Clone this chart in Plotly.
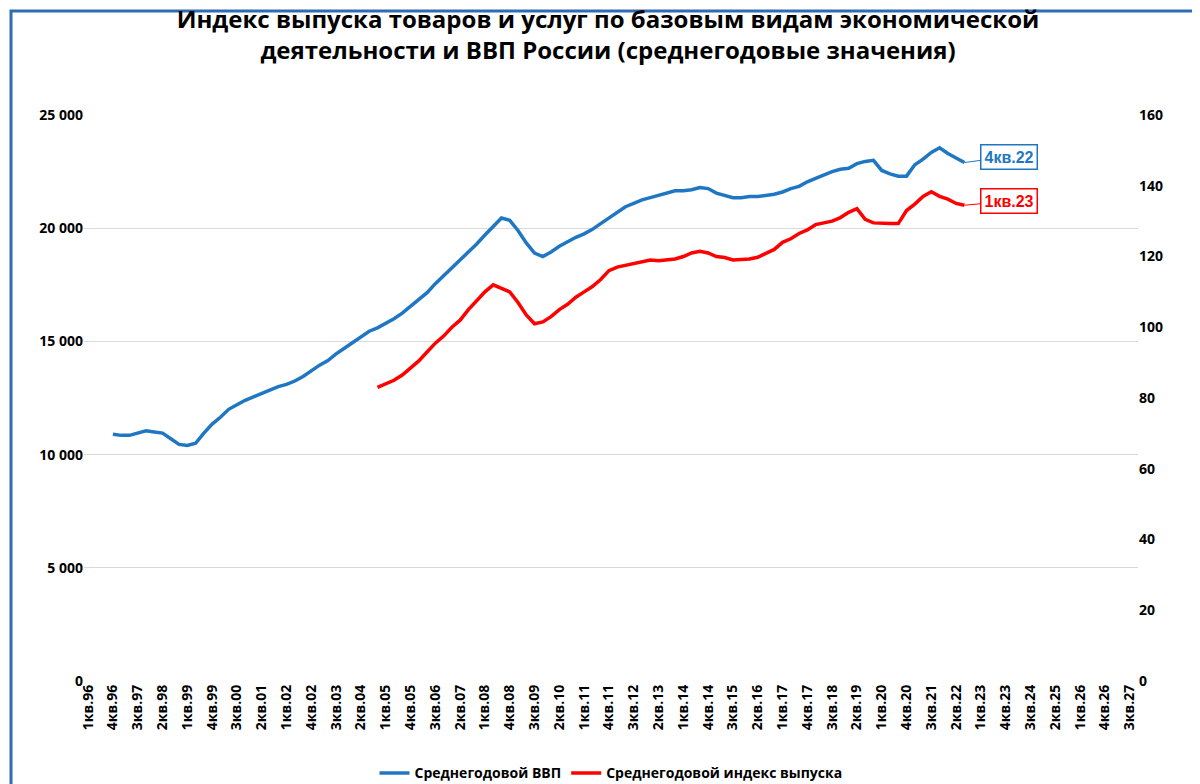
import plotly.graph_objects as go

# quarters 1кв.96 .. 4кв.27
quarters = [f"{q}кв.{y % 100:02d}" for y in range(1996, 2028) for q in range(1, 5)]

# Среднегодовой ВВП, from 4кв.96 (index 3) to 4кв.22 (index 107)
gdp_start = 3
gdp = [10.9, 10.85, 10.85, 10.95, 11.05, 11.0, 10.95, 10.7, 10.45, 10.4, 10.5, 10.95,
       11.35, 11.65, 12.0, 12.2, 12.4, 12.55, 12.7, 12.85, 13.0, 13.1, 13.25, 13.45,
       13.7, 13.95, 14.15, 14.45, 14.7, 14.95, 15.2, 15.45, 15.6, 15.8, 16.0, 16.25,
       16.55, 16.85, 17.15, 17.55, 17.9, 18.2, 18.6, 18.9, 19.3, 19.7, 20.1, 20.45,
       20.35, 19.9, 19.35, 18.9, 18.75, 18.95, 19.2, 19.4, 19.6, 19.75, 19.95, 20.2,
       20.45, 20.7, 20.95, 21.1, 21.25, 21.35, 21.45, 21.55, 21.65, 21.65, 21.7, 21.8,
       21.75, 21.55, 21.45, 21.35, 21.35, 21.4, 21.4, 21.45, 21.5, 21.6, 21.75, 21.85,
       22.05, 22.2, 22.35, 22.5, 22.6, 22.65, 22.85, 22.95, 23.0, 22.55, 22.4, 22.3,
       22.3, 22.8, 23.05, 23.35, 23.55, 23.3, 23.1, 22.9]
gdp = [v * 1000 for v in gdp]

# Среднегодовой индекс выпуска, from 4кв.04 (index 35) to 1кв.23 (index 108)
out_start = 35
output = [83, 84, 85, 86.5, 88.5, 90.5, 93, 95.5, 97.5, 100, 102, 105, 107.5, 110, 112,
          111, 110, 107, 103.5, 101, 101.5, 103, 105, 106.5, 108.5, 110, 111.5, 113.5,
          116, 117, 117.5, 118, 118.5, 119, 118.8, 119, 119.3, 120, 121, 121.5, 121,
          120, 119.7, 119, 119.2, 119.3, 119.8, 121, 122, 124, 125, 126.5, 127.5, 129,
          129.5, 130, 131, 132.5, 133.5, 130.5, 129.5, 129.3, 129.3, 129.3, 133, 134.8,
          137, 138.3, 137, 136.2, 135, 134.5]

gdp_x = list(range(gdp_start, gdp_start + len(gdp)))
out_x = list(range(out_start, out_start + len(output)))

tick_idx = list(range(0, len(quarters), 3))

fig = go.Figure()
fig.add_trace(go.Scatter(x=gdp_x, y=gdp, mode="lines", name="Среднегодовой ВВП",
                         line=dict(color="#1f77c4", width=3.5)))
fig.add_trace(go.Scatter(x=out_x, y=output, mode="lines", name="Среднегодовой индекс выпуска",
                         line=dict(color="#ff0000", width=3.5), yaxis="y2"))

fig.add_annotation(x=gdp_x[-1], y=gdp[-1], text="<b>4кв.22</b>", showarrow=True,
                   arrowhead=0, arrowcolor="#1f77c4", ax=45, ay=-6,
                   font=dict(color="#1f77c4", size=16), bordercolor="#1f77c4",
                   borderwidth=1.5, bgcolor="white", borderpad=3)
fig.add_annotation(x=out_x[-1], y=output[-1], yref="y2", text="<b>1кв.23</b>", showarrow=True,
                   arrowhead=0, arrowcolor="#ff0000", ax=45, ay=-4,
                   font=dict(color="#ff0000", size=16), bordercolor="#ff0000",
                   borderwidth=1.5, bgcolor="white", borderpad=3)

L, R, T, B = 76, 70, 107, 111
pw, ph = 1200 - L - R, 784 - T - B
fig.add_shape(type="rect", xref="paper", yref="paper",
              x0=-(L - 3) / pw, x1=1 + (R - 4) / pw, y0=-(B - 4) / ph, y1=1 + (T - 3) / ph,
              line=dict(color="#2e6db4", width=3))

fig.update_layout(
    width=1200, height=784,
    margin=dict(l=L, r=R, t=T, b=B, autoexpand=False),
    paper_bgcolor="white", plot_bgcolor="white",
    font=dict(family="Liberation Sans, Arial, sans-serif", color="black"),
    title=dict(text="<b>Индекс выпуска товаров и услуг по базовым видам экономической<br>деятельности и ВВП России (среднегодовые значения)</b>",
               x=0.5, y=0.975, xanchor="center", yanchor="top",
               font=dict(size=24, family="Open Sans, sans-serif")),
    xaxis=dict(range=[-0.5, 127], tickmode="array", tickvals=tick_idx,
               ticktext=[quarters[i] for i in tick_idx], tickangle=-90, automargin=False,
               showgrid=False, zeroline=False, showline=False),
    yaxis=dict(range=[0, 25000], dtick=5000, tickformat=",", automargin=False,
               showgrid=True, gridcolor="#d9d9d9", zeroline=False),
    yaxis2=dict(range=[0, 160], dtick=20, overlaying="y", side="right", automargin=False,
                showgrid=False, zeroline=False),
    separators=". ",
    legend=dict(orientation="h", x=0.5, xanchor="center", y=-0.135, yanchor="top",
                bgcolor="rgba(0,0,0,0)", font=dict(size=14)),
    showlegend=True,
)
fig.update_yaxes(tickfont=dict(size=14, family="Open Sans, sans-serif", weight="bold"))
fig.update_xaxes(tickfont=dict(size=14, family="Open Sans, sans-serif", weight="bold"))
fig.update_layout(legend_font=dict(family="Open Sans, sans-serif", weight="bold"))

fig.write_html("out.html")
